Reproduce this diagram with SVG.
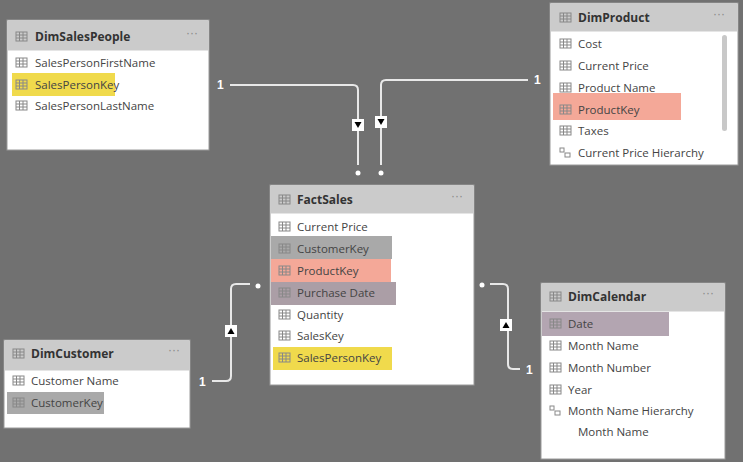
<svg xmlns="http://www.w3.org/2000/svg" width="743" height="462" viewBox="0 0 743 462">
<style>
.box{fill:#fff;stroke:#9a9a9a;stroke-width:1}
.hdr{fill:#cbcbcb}
.t{font-family:"Segoe UI","Open Sans","Liberation Sans",sans-serif;font-size:11.5px;fill:#444}
.h{font-family:"Segoe UI","Open Sans","Liberation Sans",sans-serif;font-size:12px;font-weight:bold;fill:#333}
.dots{font-family:"Liberation Sans",sans-serif;font-size:12px;fill:#888}
.c{fill:none;stroke:#e8e8e8;stroke-width:2}
.n{font-family:"Liberation Sans",sans-serif;font-size:12px;font-weight:bold;fill:#fff}
.ab{fill:#fff}
.ic{fill:none;stroke:#888;stroke-width:1}
</style>
<defs>
<g id="ico"><rect x="0" y="-5" width="11" height="9" class="ic"/><line x1="0" y1="-2" x2="11" y2="-2" class="ic"/><line x1="0" y1="1" x2="11" y2="1" class="ic"/><line x1="3.5" y1="-5" x2="3.5" y2="4" class="ic"/><line x1="7" y1="-5" x2="7" y2="4" class="ic"/></g>
<g id="hico"><rect x="0" y="-5" width="4" height="4" class="ic"/><rect x="5" y="0" width="5" height="4" class="ic"/></g>
</defs>
<rect width="743" height="462" fill="#717171"/>
<g id="connectors">
<path class="c" d="M230 85 H353 Q358 85 358 90 V165"/>
<path class="c" d="M528 80 H386 Q381 80 381 85 V165"/>
<path class="c" d="M212 381 H226 Q231 381 231 376 V289 Q231 284 236 284 H250"/>
<path class="c" d="M520 369 H513 Q508 369 508 364 V289 Q508 284 503 284 H490"/>
<circle cx="358" cy="173" r="2.5" fill="#fff"/><circle cx="381" cy="173" r="2.5" fill="#fff"/>
<circle cx="258" cy="286" r="2.5" fill="#fff"/><circle cx="482" cy="285" r="2.5" fill="#fff"/>
<rect class="ab" x="352" y="119" width="12" height="12"/><path d="M354.5 122 H361.5 L358 128 Z"/>
<rect class="ab" x="375" y="116" width="12" height="12"/><path d="M377.5 119 H384.5 L381 125 Z"/>
<rect class="ab" x="225" y="325" width="12" height="12"/><path d="M227.5 334 H234.5 L231 328 Z"/>
<rect class="ab" x="500" y="319" width="12" height="12"/><path d="M502.5 328 H509.5 L506 322 Z"/>
<text class="n" x="217" y="89">1</text><text class="n" x="534" y="84">1</text>
<text class="n" x="199" y="386">1</text><text class="n" x="526" y="374">1</text>
</g>
<g id="DimSalesPeople">
<rect class="box" x="7" y="20" width="202" height="130"/><rect class="hdr" x="7.5" y="20.5" width="201" height="30"/>
<use href="#ico" x="16" y="37"/><text class="h" x="35" y="41">DimSalesPeople</text><text class="dots" x="186" y="37">···</text>
<rect x="12" y="73" width="103" height="23" fill="#f0da4c"/>
<use href="#ico" x="16" y="63"/><text class="t" x="35" y="67">SalesPersonFirstName</text>
<use href="#ico" x="16" y="85"/><text class="t" x="35" y="89">SalesPersonKey</text>
<use href="#ico" x="16" y="106"/><text class="t" x="35" y="110">SalesPersonLastName</text>
</g>
<g id="DimProduct">
<rect class="box" x="550" y="3" width="188" height="162"/><rect class="hdr" x="550.5" y="3.5" width="187" height="28"/>
<use href="#ico" x="560" y="18"/><text class="h" x="578" y="22">DimProduct</text><text class="dots" x="713" y="18">···</text>
<rect x="722" y="35" width="5" height="96" rx="2.5" fill="#c8c8c8"/>
<rect x="553" y="93" width="128" height="27" fill="#f4a898"/>
<use href="#ico" x="560" y="44"/><text class="t" x="578" y="48">Cost</text>
<use href="#ico" x="560" y="66"/><text class="t" x="578" y="70">Current Price</text>
<use href="#ico" x="560" y="88"/><text class="t" x="578" y="92">Product Name</text>
<use href="#ico" x="560" y="110"/><text class="t" x="578" y="114">ProductKey</text>
<use href="#ico" x="560" y="131"/><text class="t" x="578" y="135">Taxes</text>
<use href="#hico" x="560" y="153"/><text class="t" x="578" y="157">Current Price Hierarchy</text>
</g>
<g id="FactSales">
<rect class="box" x="270" y="185" width="204" height="200"/><rect class="hdr" x="270.5" y="185.5" width="203" height="28"/>
<use href="#ico" x="279" y="200"/><text class="h" x="297" y="204">FactSales</text><text class="dots" x="451" y="200">···</text>
<rect x="271" y="236" width="121" height="23" fill="#a9a9a9"/>
<rect x="271" y="259" width="120" height="23" fill="#f4a898"/>
<rect x="271" y="282" width="125" height="23" fill="#ab9ea6"/>
<rect x="273" y="347" width="119" height="23" fill="#f0da4c"/>
<use href="#ico" x="279" y="227"/><text class="t" x="297" y="231">Current Price</text>
<use href="#ico" x="279" y="249"/><text class="t" x="297" y="253">CustomerKey</text>
<use href="#ico" x="279" y="271"/><text class="t" x="297" y="275">ProductKey</text>
<use href="#ico" x="279" y="293"/><text class="t" x="297" y="297">Purchase Date</text>
<use href="#ico" x="279" y="315"/><text class="t" x="297" y="319">Quantity</text>
<use href="#ico" x="279" y="336"/><text class="t" x="297" y="340">SalesKey</text>
<use href="#ico" x="279" y="358"/><text class="t" x="297" y="362">SalesPersonKey</text>
</g>
<g id="DimCustomer">
<rect class="box" x="4" y="340" width="186" height="88"/><rect class="hdr" x="4.5" y="340.5" width="185" height="30"/>
<use href="#ico" x="13" y="354"/><text class="h" x="31" y="358">DimCustomer</text><text class="dots" x="168" y="354">···</text>
<rect x="7" y="392" width="97" height="22" fill="#a9a9a9"/>
<use href="#ico" x="13" y="381"/><text class="t" x="31" y="385">Customer Name</text>
<use href="#ico" x="13" y="403"/><text class="t" x="31" y="407">CustomerKey</text>
</g>
<g id="DimCalendar">
<rect class="box" x="541" y="283" width="184" height="176"/><rect class="hdr" x="541.5" y="283.5" width="183" height="28"/>
<use href="#ico" x="550" y="297"/><text class="h" x="568" y="301">DimCalendar</text><text class="dots" x="702" y="297">···</text>
<rect x="542" y="312" width="127" height="24" fill="#b3a5b1"/>
<use href="#ico" x="550" y="324"/><text class="t" x="568" y="328">Date</text>
<use href="#ico" x="550" y="346"/><text class="t" x="568" y="350">Month Name</text>
<use href="#ico" x="550" y="368"/><text class="t" x="568" y="372">Month Number</text>
<use href="#ico" x="550" y="390"/><text class="t" x="568" y="394">Year</text>
<use href="#hico" x="550" y="411"/><text class="t" x="568" y="415">Month Name Hierarchy</text>
<text class="t" x="578" y="436">Month Name</text>
</g>
</svg>
